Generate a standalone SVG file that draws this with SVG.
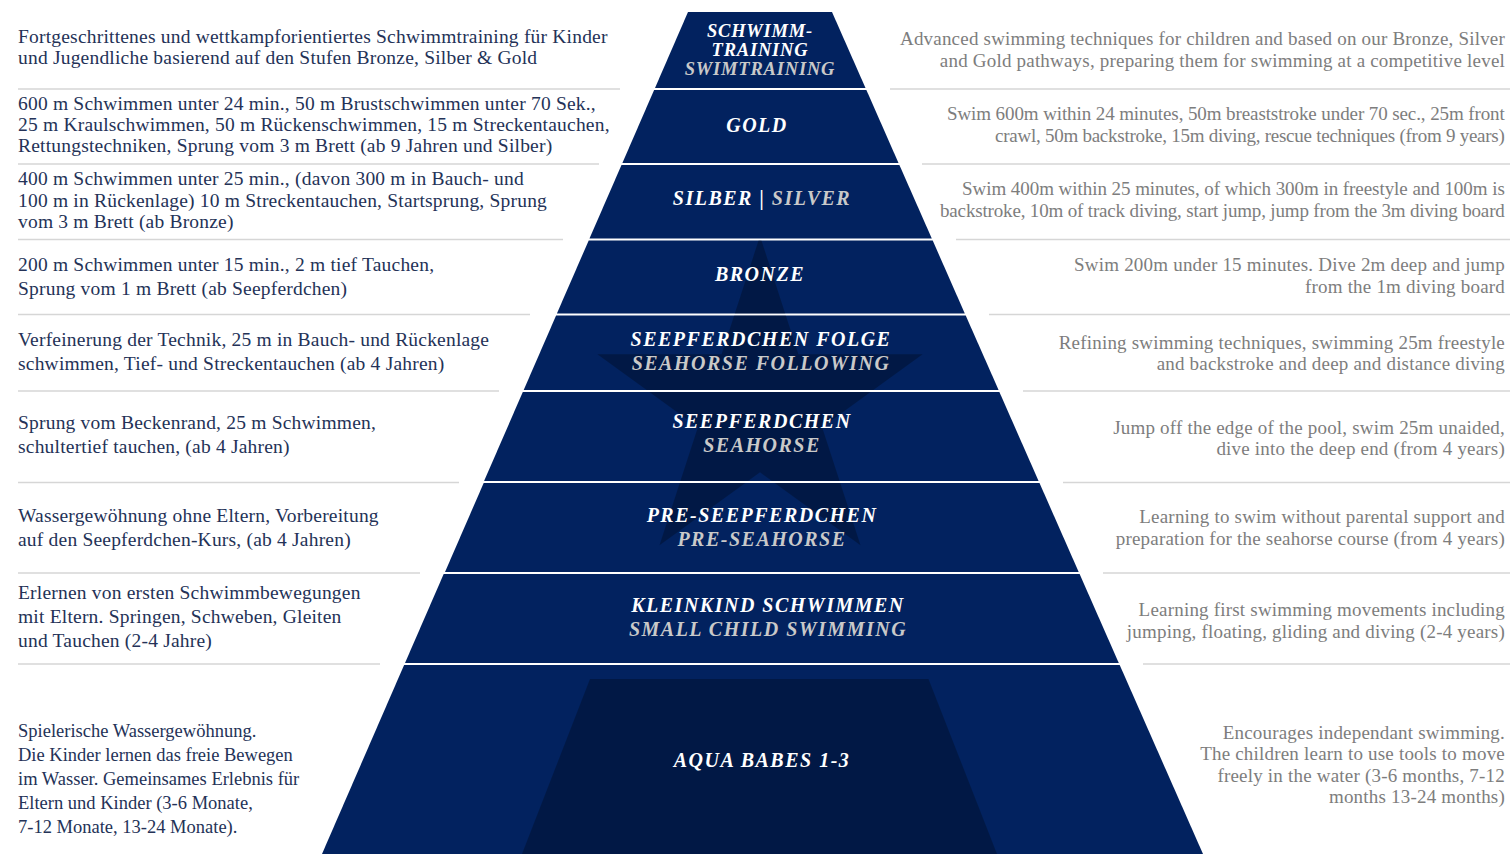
<svg xmlns="http://www.w3.org/2000/svg" xmlns:xlink="http://www.w3.org/1999/xlink" width="1510" height="854" viewBox="0 0 1510 854">
<style>
.band{fill:#02225f}
.shade{fill:#000;opacity:.27}
.lbl{font-family:"Liberation Serif","Times New Roman",serif;font-style:italic;font-weight:bold;font-size:20px;fill:#ffffff;text-anchor:middle;letter-spacing:1.5px}
.ttl{font-size:18.5px;letter-spacing:0.8px}
.en{fill:#c9c9c9}
.de{font-family:"Liberation Serif","Times New Roman",serif;font-size:19.5px;letter-spacing:0.2px;fill:#243257}
.sm{font-size:18.5px;letter-spacing:0}
.ed{font-family:"Liberation Serif","Times New Roman",serif;font-size:19px;letter-spacing:0.2px;fill:#7d7d7d;text-anchor:end}
.sep{stroke:#d6d6d6;stroke-width:1.5;fill:none}
</style>
<defs>
<polygon id="star" points="760,236 798.4,354.2 922.6,354.2 822.1,427.2 860.5,545.3 760,472.3 659.5,545.3 697.9,427.2 597.4,354.2 721.6,354.2"/>
<clipPath id="c4"><rect x="0" y="240.5" width="1510" height="73"/></clipPath>
<clipPath id="c5"><rect x="0" y="315.5" width="1510" height="74.5"/></clipPath>
<clipPath id="c6"><rect x="0" y="392" width="1510" height="89"/></clipPath>
<clipPath id="c7"><rect x="0" y="483" width="1510" height="89"/></clipPath>
</defs>
<rect width="1510" height="854" fill="#ffffff"/>

<g id="connectors">
<line class="sep" x1="18" y1="89" x2="620" y2="89"/>
<line class="sep" x1="18" y1="164" x2="599" y2="164"/>
<line class="sep" x1="18" y1="239.5" x2="563" y2="239.5"/>
<line class="sep" x1="18" y1="314.5" x2="530" y2="314.5"/>
<line class="sep" x1="18" y1="391" x2="499" y2="391"/>
<line class="sep" x1="18" y1="482.5" x2="459" y2="482.5"/>
<line class="sep" x1="18" y1="573" x2="420" y2="573"/>
<line class="sep" x1="18" y1="664" x2="380" y2="664"/>
<line class="sep" x1="890" y1="89" x2="1510" y2="89"/>
<line class="sep" x1="922" y1="164" x2="1510" y2="164"/>
<line class="sep" x1="956" y1="239.5" x2="1510" y2="239.5"/>
<line class="sep" x1="989" y1="314.5" x2="1510" y2="314.5"/>
<line class="sep" x1="1023" y1="391" x2="1510" y2="391"/>
<line class="sep" x1="1063" y1="482.5" x2="1510" y2="482.5"/>
<line class="sep" x1="1103" y1="573" x2="1510" y2="573"/>
<line class="sep" x1="1143" y1="664" x2="1510" y2="664"/>
</g>

<g id="level-schwimmtraining">
<polygon class="band" points="688,12 832,12 865.5,88 655,88"/>
<text class="lbl ttl" x="760" y="37">SCHWIMM-</text>
<text class="lbl ttl" x="760" y="56">TRAINING</text>
<text class="lbl ttl en" x="760" y="75">SWIMTRAINING</text>
<text class="de" x="18" y="43">Fortgeschrittenes und wettkampforientiertes Schwimmtraining für Kinder</text>
<text class="de" x="18" y="64">und Jugendliche basierend auf den Stufen Bronze, Silber &amp; Gold</text>
<text class="ed" x="1505" y="45">Advanced swimming techniques for children and based on our Bronze, Silver</text>
<text class="ed" x="1505" y="67">and Gold pathways, preparing them for swimming at a competitive level</text>
</g>

<g id="level-gold">
<polygon class="band" points="654.1,90 866.4,90 898.5,163 622.4,163"/>
<text class="lbl" x="757" y="132">GOLD</text>
<text class="de" x="18" y="110">600 m Schwimmen unter 24 min., 50 m Brustschwimmen unter 70 Sek.,</text>
<text class="de" x="18" y="131">25 m Kraulschwimmen, 50 m Rückenschwimmen, 15 m Streckentauchen,</text>
<text class="de" x="18" y="152">Rettungstechniken, Sprung vom 3 m Brett (ab 9 Jahren und Silber)</text>
<text class="ed" x="1505" y="120" textLength="558" lengthAdjust="spacing">Swim 600m within 24 minutes, 50m breaststroke under 70 sec., 25m front</text>
<text class="ed" x="1505" y="142" textLength="510" lengthAdjust="spacing">crawl, 50m backstroke, 15m diving, rescue techniques (from 9 years)</text>
</g>

<g id="level-silber">
<polygon class="band" points="621.5,165 899.4,165 931.8,238.5 589.5,238.5"/>
<text class="lbl" x="762" y="205">SILBER | <tspan class="en">SILVER</tspan></text>
<text class="de" x="18" y="185">400 m Schwimmen unter 25 min., (davon 300 m in Bauch- und</text>
<text class="de" x="18" y="207">100 m in Rückenlage) 10 m Streckentauchen, Startsprung, Sprung</text>
<text class="de" x="18" y="228">vom 3 m Brett (ab Bronze)</text>
<text class="ed" x="1505" y="195" textLength="543" lengthAdjust="spacing">Swim 400m within 25 minutes, of which 300m in freestyle and 100m is</text>
<text class="ed" x="1505" y="217" textLength="565" lengthAdjust="spacing">backstroke, 10m of track diving, start jump, jump from the 3m diving board</text>
</g>

<g id="level-bronze">
<polygon class="band" points="588.7,240.5 932.7,240.5 964.8,313.5 556.9,313.5"/>
<use xlink:href="#star" href="#star" class="shade" clip-path="url(#c4)"/>
<text class="lbl" x="760" y="281">BRONZE</text>
<text class="de" x="18" y="271">200 m Schwimmen unter 15 min., 2 m tief Tauchen,</text>
<text class="de" x="18" y="295">Sprung vom 1 m Brett (ab Seepferdchen)</text>
<text class="ed" x="1505" y="271">Swim 200m under 15 minutes. Dive 2m deep and jump</text>
<text class="ed" x="1505" y="293">from the 1m diving board</text>
</g>

<g id="level-seepferdchen-folge">
<polygon class="band" points="556.1,315.5 965.7,315.5 998.6,390 523.7,390"/>
<use xlink:href="#star" href="#star" class="shade" clip-path="url(#c5)"/>
<text class="lbl" x="761" y="346">SEEPFERDCHEN FOLGE</text>
<text class="lbl en" x="761" y="370">SEAHORSE FOLLOWING</text>
<text class="de" x="18" y="346">Verfeinerung der Technik, 25 m in Bauch- und Rückenlage</text>
<text class="de" x="18" y="370">schwimmen, Tief- und Streckentauchen (ab 4 Jahren)</text>
<text class="ed" x="1505" y="349">Refining swimming techniques, swimming 25m freestyle</text>
<text class="ed" x="1505" y="370">and backstroke and deep and distance diving</text>
</g>

<g id="level-seepferdchen">
<polygon class="band" points="522.8,392 999.4,392 1038.6,481 484.1,481"/>
<use xlink:href="#star" href="#star" class="shade" clip-path="url(#c6)"/>
<text class="lbl" x="762" y="428">SEEPFERDCHEN</text>
<text class="lbl en" x="762" y="452">SEAHORSE</text>
<text class="de" x="18" y="429">Sprung vom Beckenrand, 25 m Schwimmen,</text>
<text class="de" x="18" y="453">schultertief tauchen, (ab 4 Jahren)</text>
<text class="ed" x="1505" y="434">Jump off the edge of the pool, swim 25m unaided,</text>
<text class="ed" x="1505" y="455">dive into the deep end (from 4 years)</text>
</g>

<g id="level-pre-seepferdchen">
<polygon class="band" points="483.7,483 1039.5,483 1078.7,572 445,572"/>
<use xlink:href="#star" href="#star" class="shade" clip-path="url(#c7)"/>
<text class="lbl" x="762" y="522">PRE-SEEPFERDCHEN</text>
<text class="lbl en" x="762" y="546">PRE-SEAHORSE</text>
<text class="de" x="18" y="522">Wassergewöhnung ohne Eltern, Vorbereitung</text>
<text class="de" x="18" y="546">auf den Seepferdchen-Kurs, (ab 4 Jahren)</text>
<text class="ed" x="1505" y="523">Learning to swim without parental support and</text>
<text class="ed" x="1505" y="545">preparation for the seahorse course (from 4 years)</text>
</g>

<g id="level-kleinkind">
<polygon class="band" points="443.7,574 1079.6,574 1118.8,663 405,663"/>
<text class="lbl" x="768" y="612">KLEINKIND SCHWIMMEN</text>
<text class="lbl en" x="768" y="636">SMALL CHILD SWIMMING</text>
<text class="de" x="18" y="599">Erlernen von ersten Schwimmbewegungen</text>
<text class="de" x="18" y="623">mit Eltern. Springen, Schweben, Gleiten</text>
<text class="de" x="18" y="647">und Tauchen (2-4 Jahre)</text>
<text class="ed" x="1505" y="616">Learning first swimming movements including</text>
<text class="ed" x="1505" y="638">jumping, floating, gliding and diving (2-4 years)</text>
</g>

<g id="level-aqua-babes">
<polygon class="band" points="404.1,665 1119.7,665 1203,854 322,854"/>
<polygon class="shade" points="590,679 928.5,679 997,854 522,854"/>
<text class="lbl" x="762" y="767">AQUA BABES 1-3</text>
<text class="de sm" x="18" y="737">Spielerische Wassergewöhnung.</text>
<text class="de sm" x="18" y="761">Die Kinder lernen das freie Bewegen</text>
<text class="de sm" x="18" y="785">im Wasser. Gemeinsames Erlebnis für</text>
<text class="de sm" x="18" y="809">Eltern und Kinder (3-6 Monate,</text>
<text class="de sm" x="18" y="833">7-12 Monate, 13-24 Monate).</text>
<text class="ed" x="1505" y="739">Encourages independant swimming.</text>
<text class="ed" x="1505" y="760">The children learn to use tools to move</text>
<text class="ed" x="1505" y="782">freely in the water (3-6 months, 7-12</text>
<text class="ed" x="1505" y="803">months 13-24 months)</text>
</g>
</svg>
